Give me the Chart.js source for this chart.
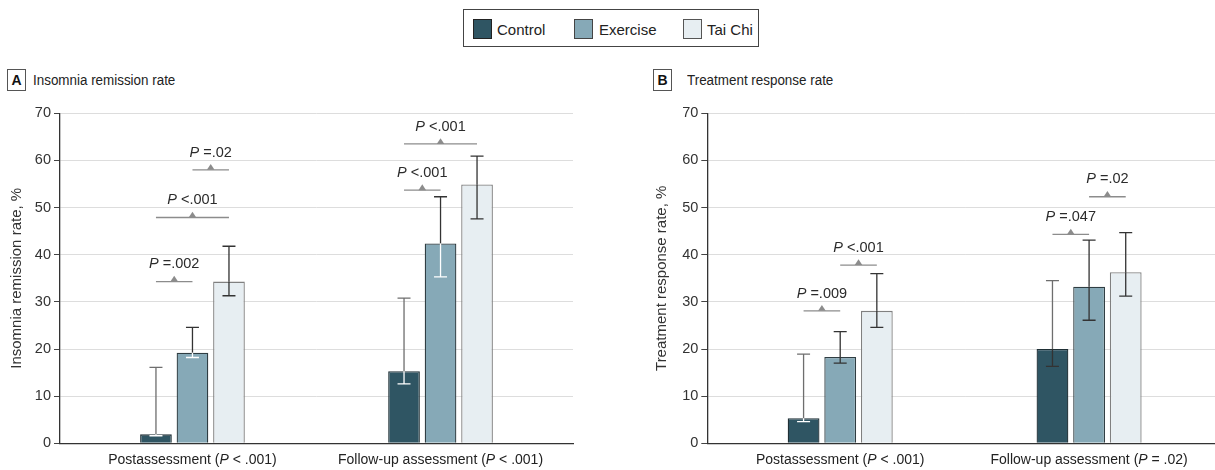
<!DOCTYPE html>
<html><head><meta charset="utf-8">
<script src="https://cdn.jsdelivr.net/npm/chart.js@4.4.0/dist/chart.umd.min.js"></script>
<style>
html,body{margin:0;padding:0;width:1215px;height:470px;overflow:hidden;background:#fff;font-family:'Liberation Sans',Arial,sans-serif;color:#222}
.a{position:absolute;white-space:nowrap}
#legend{left:463px;top:9px;width:294px;height:36px;border:1.5px solid #444}
.sw{width:17px;height:18px;top:19px}
.lt{top:21px;font-size:15px;line-height:18px;color:#222}
.pb{width:17px;height:20px;top:69px;border:1px solid #555;font-weight:bold;font-size:14px;line-height:20px;text-align:center;color:#111}
.pt{top:70px;font-size:15.5px;line-height:20px;color:#222;transform:scaleX(0.865);transform-origin:0 50%}
canvas{position:absolute}
</style></head><body>
<div id="legend" class="a"></div>
<div class="a sw" style="left:473px;background:#2f5563;border:1px solid #222"></div>
<div class="a lt" style="left:497px">Control</div>
<div class="a sw" style="left:574px;background:#86a9b7;border:1px solid #444"></div>
<div class="a lt" style="left:599px">Exercise</div>
<div class="a sw" style="left:683px;background:#e7eef2;border:1px solid #555"></div>
<div class="a lt" style="left:707px">Tai Chi</div>

<div class="a pb" style="left:7px">A</div>
<div class="a pt" style="left:33px">Insomnia remission rate</div>
<div class="a pb" style="left:653px">B</div>
<div class="a pt" style="left:687px">Treatment response rate</div>

<canvas id="cA" width="600" height="370" style="left:0px;top:100px"></canvas>
<canvas id="cB" width="575" height="370" style="left:647px;top:100px"></canvas>

<script>
// ---- data ----
const categories = ['Postassessment', 'Follow-up assessment'];
const seriesNames = ['Control', 'Exercise', 'Tai Chi'];
const yTicks = [0, 10, 20, 30, 40, 50, 60, 70];

// Panel A: insomnia remission rate, %
const remissionPValues = ['< .001', '< .001'];
const remissionControl = [1.9, 15.3];
const remissionControlLow = [1.6, 12.6];
const remissionControlHigh = [16.1, 30.8];
const remissionExercise = [19.2, 42.4];
const remissionExerciseLow = [18.2, 35.3];
const remissionExerciseHigh = [24.6, 52.3];
const remissionTaiChi = [34.3, 54.9];
const remissionTaiChiLow = [31.3, 47.6];
const remissionTaiChiHigh = [41.8, 60.9];
// [category, from series, to series, bracket level, P text]
const remissionComparisons = [
  [0, 0, 1, 34.3, '=.002'],
  [0, 0, 2, 47.9, '<.001'],
  [0, 1, 2, 58.0, '=.02'],
  [1, 0, 1, 53.7, '<.001'],
  [1, 0, 2, 63.5, '<.001']
];

// Panel B: treatment response rate, %
const responsePValues = ['< .001', '= .02'];
const responseControl = [5.3, 20.0];
const responseControlLow = [4.6, 16.3];
const responseControlHigh = [18.9, 34.5];
const responseExercise = [18.3, 33.2];
const responseExerciseLow = [17.0, 26.1];
const responseExerciseHigh = [23.7, 43.1];
const responseTaiChi = [28.1, 36.3];
const responseTaiChiLow = [24.6, 31.2];
const responseTaiChiHigh = [36.0, 44.7];
const responseComparisons = [
  [0, 0, 1, 28.1, '=.009'],
  [0, 1, 2, 37.8, '<.001'],
  [1, 0, 1, 44.3, '=.047'],
  [1, 1, 2, 52.3, '=.02']
];

// ---- styles ----
const FONT = "'Liberation Sans', Arial, sans-serif";
const fills = ['#2f5563', '#86a9b7', '#e7eef2'];
const borders = ['#1f2f35', '#2f3d42', '#808080'];
const whiskerOut = ['#6e6e6e', '#333333', '#333333'];

function drawParts(ctx, parts, cx, y, size) {
  let total = 0;
  const widths = parts.map(p => {
    ctx.font = (p[1] ? 'italic ' : '') + size + 'px ' + FONT;
    const w = ctx.measureText(p[0]).width; total += w; return w;
  });
  let x = cx - total / 2;
  parts.forEach((p, i) => {
    ctx.font = (p[1] ? 'italic ' : '') + size + 'px ' + FONT;
    ctx.fillText(p[0], x, y); x += widths[i];
  });
}

function makeExtras(lows, highs, inside, comps, pvals) {
  return {
    id: 'extras',
    afterDatasetsDraw(chart) {
      const ctx = chart.ctx, ys = chart.scales.y;
      ctx.save();
      ctx.lineWidth = 1.3;
      lows.forEach((lo, di) => {
        const meta = chart.getDatasetMeta(di);
        meta.data.forEach((bar, j) => {
          const x = bar.x, yTop = bar.y;
          const yHi = ys.getPixelForValue(highs[di][j]);
          const yLo = ys.getPixelForValue(lo[j]);
          ctx.strokeStyle = whiskerOut[di];
          ctx.beginPath();
          ctx.moveTo(x, yHi); ctx.lineTo(x, yTop);
          ctx.moveTo(x - 6.5, yHi); ctx.lineTo(x + 6.5, yHi);
          ctx.stroke();
          ctx.strokeStyle = inside[di][j];
          ctx.beginPath();
          ctx.moveTo(x, yTop); ctx.lineTo(x, yLo);
          ctx.moveTo(x - 6.5, yLo); ctx.lineTo(x + 6.5, yLo);
          ctx.stroke();
        });
      });
      comps.forEach(c => {
        const [cat, a, b, lvl, txt] = c;
        const x1 = chart.getDatasetMeta(a).data[cat].x;
        const x2 = chart.getDatasetMeta(b).data[cat].x;
        const y = ys.getPixelForValue(lvl);
        const mx = (x1 + x2) / 2;
        ctx.strokeStyle = '#8c8c8c';
        ctx.lineWidth = 1.3;
        ctx.beginPath(); ctx.moveTo(x1, y); ctx.lineTo(x2, y); ctx.stroke();
        ctx.fillStyle = '#8c8c8c';
        ctx.beginPath(); ctx.moveTo(mx - 3.8, y); ctx.lineTo(mx + 3.8, y); ctx.lineTo(mx, y - 5.8); ctx.closePath(); ctx.fill();
        ctx.fillStyle = '#2b2b2b';
        ctx.textBaseline = 'alphabetic';
        drawParts(ctx, [['P', true], [' ' + txt, false]], mx, y - 13.3, 14.5);
      });
      const xs = chart.scales.x;
      ctx.fillStyle = '#222';
      categories.forEach((cname, i) => {
        const cx = xs.getPixelForValue(i);
        drawParts(ctx, [[cname + ' (', false], ['P', true], [' ' + pvals[i] + ')', false]], cx, chart.chartArea.bottom + 20.3, 14);
      });
      ctx.restore();
    }
  };
}

function makeChart(id, vals, lows, highs, inside, comps, pvals, yTitle, yWidth, titlePad, padRight) {
  const datasets = vals.map((v, di) => ({
    label: seriesNames[di],
    data: v.map((y, i) => ({ x: i, y: y })),
    backgroundColor: fills[di],
    borderColor: borders[di],
    borderWidth: 1.3,
    categoryPercentage: 0.4415,
    barPercentage: 0.868
  }));
  return new Chart(document.getElementById(id), {
    type: 'bar',
    data: { datasets },
    options: {
      responsive: false, animation: false, devicePixelRatio: 1,
      layout: { padding: { top: 13.3, right: padRight, bottom: 0, left: 0 } },
      plugins: { legend: { display: false }, tooltip: { enabled: false } },
      scales: {
        x: {
          type: 'linear', min: -0.534, max: 1.534, offset: false, bounds: 'data',
          afterBuildTicks: s => { s.ticks = categories.map((c, i) => ({ value: i })); },
          afterFit: s => { s.height = 26.7; },
          ticks: { display: false },
          grid: { display: false, offset: false },
          border: { color: '#333', width: 1.3 }
        },
        y: {
          min: 0, max: 70,
          afterBuildTicks: s => { s.ticks = yTicks.map(v => ({ value: v })); },
          afterFit: s => { s.width = yWidth; },
          ticks: { font: { family: FONT, size: 14.5 }, color: '#333', padding: 3 },
          grid: { color: '#dddddd', lineWidth: 1, tickColor: '#444', tickLength: 6 },
          border: { color: '#333', width: 1.3 },
          title: { display: true, text: yTitle, color: '#333', font: { family: FONT, size: 15 }, padding: { top: titlePad, bottom: 0 } }
        }
      }
    },
    plugins: [makeExtras(lows, highs, inside, comps, pvals)]
  });
}

makeChart('cA',
  [remissionControl, remissionExercise, remissionTaiChi],
  [remissionControlLow, remissionExerciseLow, remissionTaiChiLow],
  [remissionControlHigh, remissionExerciseHigh, remissionTaiChiHigh],
  [['#ffffff', '#ffffff'], ['#ffffff', '#ffffff'], ['#333333', '#333333']],
  remissionComparisons, remissionPValues,
  'Insomnia remission rate, %', 60, 8, 27);

makeChart('cB',
  [responseControl, responseExercise, responseTaiChi],
  [responseControlLow, responseExerciseLow, responseTaiChiLow],
  [responseControlHigh, responseExerciseHigh, responseTaiChiHigh],
  [['#ffffff', '#333333'], ['#333333', '#333333'], ['#333333', '#333333']],
  responseComparisons, responsePValues,
  'Treatment response rate, %', 60.3, 5.7, 0);
</script>
</body></html>
